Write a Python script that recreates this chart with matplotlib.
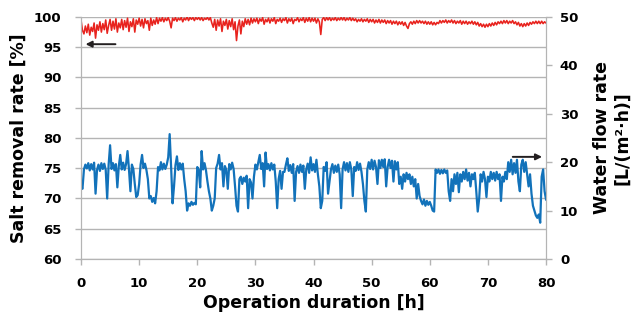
import numpy as np
import matplotlib
matplotlib.use("Agg")
import matplotlib.pyplot as plt

# time axis, one reading every 15 min
hours = np.arange(0, 80.01, 0.25)

# salt removal rate [%] (left axis)
salt_removal = [
    99.5, 97.8, 97.2, 98.5, 97.4, 98.8, 97.0, 98.3, 97.6, 99.0, 96.5, 98.7, 97.8, 99.2, 97.5, 98.9, 97.9, 99.5, 97.3, 98.6,
    99.6, 97.8, 99.3, 98.0, 99.7, 97.5, 99.0, 98.2, 99.6, 97.9, 99.4, 98.3, 99.8, 97.6, 99.2, 98.4, 99.7, 97.5, 99.5, 98.8,
    99.8, 98.5, 99.6, 98.2, 99.7, 98.9, 99.4, 97.8, 99.8, 98.6, 99.5, 98.8, 99.9, 98.9, 99.8, 99.3, 99.9, 99.2, 99.8, 99.4,
    99.9, 99.3, 98.2, 99.8, 99.4, 99.9, 99.3, 99.8, 99.5, 99.9, 99.2, 99.8, 99.5, 100.0, 99.4, 99.9, 99.6, 99.9, 99.4, 99.9,
    99.6, 99.9, 99.5, 99.9, 99.4, 99.8, 99.6, 99.9, 99.5, 99.9, 99.0, 98.3, 99.6, 97.8, 99.5, 98.5, 99.7, 97.6, 99.3, 98.6,
    99.6, 98.0, 99.4, 98.4, 99.7, 97.9, 99.2, 96.1, 98.5, 99.5, 97.2, 99.3, 98.4, 99.7, 98.8, 99.6, 98.7, 99.8, 99.0, 99.7,
    99.2, 99.8, 98.9, 99.7, 99.3, 99.9, 98.8, 99.6, 99.2, 99.8, 99.0, 99.7, 99.3, 99.9, 98.9, 99.6, 99.3, 99.8, 99.1, 99.7,
    99.4, 99.9, 99.0, 99.7, 99.3, 99.8, 98.9, 99.6, 99.4, 99.9, 99.2, 99.7, 99.4, 99.9, 99.1, 99.8, 99.3, 99.9, 99.2, 99.8,
    99.3, 99.8, 99.0, 99.7, 99.2, 97.1, 99.6, 99.9, 99.4, 99.9, 99.5, 99.9, 99.4, 99.8, 99.5, 99.9, 99.4, 99.8, 99.5, 99.9,
    99.5, 99.9, 99.4, 99.8, 99.5, 99.9, 99.4, 99.8, 99.4, 99.7, 99.2, 99.6, 99.3, 99.7, 99.2, 99.6, 99.3, 99.7, 99.1, 99.6,
    99.2, 99.6, 99.0, 99.5, 99.1, 99.6, 99.0, 99.5, 99.1, 99.5, 98.9, 99.4, 99.0, 99.4, 98.8, 99.3, 98.9, 99.3, 98.7, 99.2,
    98.8, 99.2, 98.6, 99.1, 98.5, 98.1, 98.9, 99.2, 98.8, 99.3, 98.9, 99.4, 99.0, 99.4, 99.0, 99.3, 98.9, 99.3, 98.8, 99.2,
    98.8, 99.2, 98.7, 99.1, 98.7, 99.1, 98.9, 99.4, 99.0, 99.4, 99.1, 99.5, 99.0, 99.4, 99.1, 99.5, 99.0, 99.4, 98.9, 99.3,
    99.0, 99.4, 98.8, 99.3, 98.9, 99.3, 98.8, 99.2, 98.9, 99.3, 98.8, 99.2, 98.7, 99.1, 98.5, 98.9, 98.4, 98.8, 98.3, 98.8,
    98.4, 98.9, 98.5, 99.0, 98.6, 99.1, 98.7, 99.2, 98.9, 99.3, 98.9, 99.4, 99.0, 99.4, 98.9, 99.3, 99.0, 99.4, 98.9, 99.2,
    98.7, 99.1, 98.5, 98.9, 98.4, 98.9, 98.5, 99.0, 98.6, 99.1, 98.8, 99.2, 98.9, 99.3, 98.9, 99.3, 98.9, 99.3, 98.9, 99.2,
    99.0,
]

# water flow rate [L/(m2.h)] (right axis)
water_flow = [
    15.0, 14.5, 18.5, 19.5, 18.7, 19.8, 18.3, 19.6, 18.5, 19.9, 13.5, 18.4, 19.5, 18.2, 19.8, 18.6, 19.7, 18.4, 12.5, 19.5,
    23.5, 18.6, 19.8, 18.3, 19.6, 14.8, 19.2, 21.5, 18.5, 19.9, 18.4, 19.6, 22.3, 18.5, 14.0, 19.5, 18.6, 15.5, 12.8, 13.2,
    15.5, 19.5, 21.5, 18.8, 19.7, 18.4, 16.5, 12.5, 13.0, 11.8, 12.6, 11.5, 14.0, 19.0, 18.3, 20.0, 18.5, 19.7, 18.6, 19.5,
    21.0, 25.8, 19.0, 11.5, 15.0, 19.4, 21.2, 18.4, 19.8, 18.5, 19.7, 16.5, 14.0, 10.0, 11.5, 11.0, 11.8, 11.2, 11.6, 11.3,
    19.0, 18.4, 14.8, 22.3, 18.5, 19.8, 18.3, 16.0, 14.0, 12.5, 10.0, 11.0, 12.5, 18.8, 19.7, 21.5, 18.5, 19.8, 15.0, 19.2,
    18.4, 14.5, 19.6, 18.5, 19.9, 18.6, 15.0, 11.0, 9.8, 16.5, 17.0, 15.5, 16.8, 16.0, 17.2, 10.5, 16.5, 15.8, 12.5, 17.0,
    19.5, 18.5, 20.0, 21.5, 18.6, 19.8, 15.0, 22.0, 18.6, 19.6, 18.3, 19.8, 18.5, 19.5, 16.0, 10.5, 16.5, 18.2, 14.5, 18.0,
    18.0, 19.5, 20.8, 18.2, 19.4, 17.8, 19.6, 12.0, 18.0, 19.2, 17.8, 19.5, 18.0, 19.3, 14.5, 18.5, 19.7, 17.8, 21.0, 18.3,
    19.6, 18.0, 20.5, 17.5, 15.0, 10.5, 12.0, 19.0, 18.2, 20.0, 13.5, 16.0, 18.5, 19.6, 17.8, 19.3, 18.0, 19.5, 17.5, 10.5,
    18.5, 20.0, 18.3, 19.8, 18.0, 20.0, 18.5, 13.0, 19.0, 18.2, 20.0, 18.4, 19.7, 18.0, 15.5, 12.0, 9.8, 18.5, 20.0, 18.6,
    20.5, 18.5, 20.3, 19.0, 15.5, 20.4, 18.8, 20.5, 19.0, 20.6, 15.0, 19.0, 20.5, 18.8, 20.3, 16.0, 20.2, 18.5, 20.0, 15.5,
    17.0, 14.5, 17.5, 16.0, 17.8, 16.5, 17.5, 15.5, 17.0, 15.0, 16.5, 12.5, 15.5, 13.0, 12.0, 11.3, 12.3, 11.0, 12.0, 11.2,
    11.8, 11.0, 10.0, 9.8, 18.5, 17.8, 18.5, 17.6, 18.4, 17.7, 18.5, 17.8, 18.3, 14.0, 12.0, 16.5, 14.0, 17.5, 15.5, 17.8,
    13.8, 17.5, 16.0, 18.0, 16.5, 18.5, 16.2, 17.8, 15.0, 17.5, 16.5, 17.8, 14.0, 9.8, 12.5, 17.5, 16.0, 18.0, 16.5, 12.8,
    17.0, 16.0, 18.0, 16.5, 17.8, 16.2, 18.0, 16.5, 17.5, 12.0, 17.0, 16.0, 18.0, 16.5, 20.0, 18.0, 20.5, 17.5, 19.8, 17.8,
    20.5, 16.0, 14.0, 19.5, 20.5, 18.0, 20.0, 17.5, 15.0, 17.5, 13.5, 11.0, 10.0, 9.0, 8.5, 9.2, 7.5, 17.0, 18.5, 14.0,
    12.3,
]

fig, ax = plt.subplots(figsize=(6.33, 3.2), dpi=100)
fig.subplots_adjust(left=0.128, right=0.8626, bottom=0.1906, top=0.947)
ax2 = ax.twinx()

grey = "#b4b4b4"
ax.plot(hours, salt_removal, color="#e8231e", lw=1.15)
ax2.plot(hours, water_flow, color="#1272ba", lw=1.6)

ax.set_xlim(0, 80)
ax.set_ylim(60, 100)
ax2.set_ylim(0, 50)
ax.set_xticks(np.arange(0, 81, 10))
ax.set_yticks(np.arange(60, 101, 5))
ax2.set_yticks(np.arange(0, 51, 10))

ax.yaxis.grid(True, color=grey, lw=1)
ax.set_axisbelow(True)

for a in (ax, ax2):
    a.spines["top"].set_visible(False)
    for s in ("left", "right", "bottom"):
        a.spines[s].set_color(grey)
    a.tick_params(colors=grey, labelcolor="black", length=4, width=1)
    for lab in a.get_yticklabels() + a.get_xticklabels():
        lab.set_fontweight("bold")
        lab.set_fontsize(9.5)

ax.tick_params(axis="y", pad=10)
ax.tick_params(axis="x", pad=9)
ax2.tick_params(axis="y", pad=6)

ax.set_xlabel("Operation duration [h]", fontsize=12.5, fontweight="bold", labelpad=3)
ax.set_ylabel("Salt removal rate [%]", fontsize=12.5, fontweight="bold")
ax.yaxis.set_label_coords(-0.115, 0.5)
ax2.set_ylabel("Water flow rate\n[L/(m²·h)]", fontsize=12.5, fontweight="bold", linespacing=1.1)
ax2.yaxis.set_label_coords(1.102, 0.5)

arrow = dict(arrowstyle="-|>", color="#231f20", lw=1.4, mutation_scale=9)
ax.annotate("", xy=(0.3, 95.5), xytext=(6.4, 95.5), arrowprops=arrow)
ax2.annotate("", xy=(79.8, 21.1), xytext=(73.8, 21.1), arrowprops=arrow)

fig.savefig("out.png", dpi=100)
